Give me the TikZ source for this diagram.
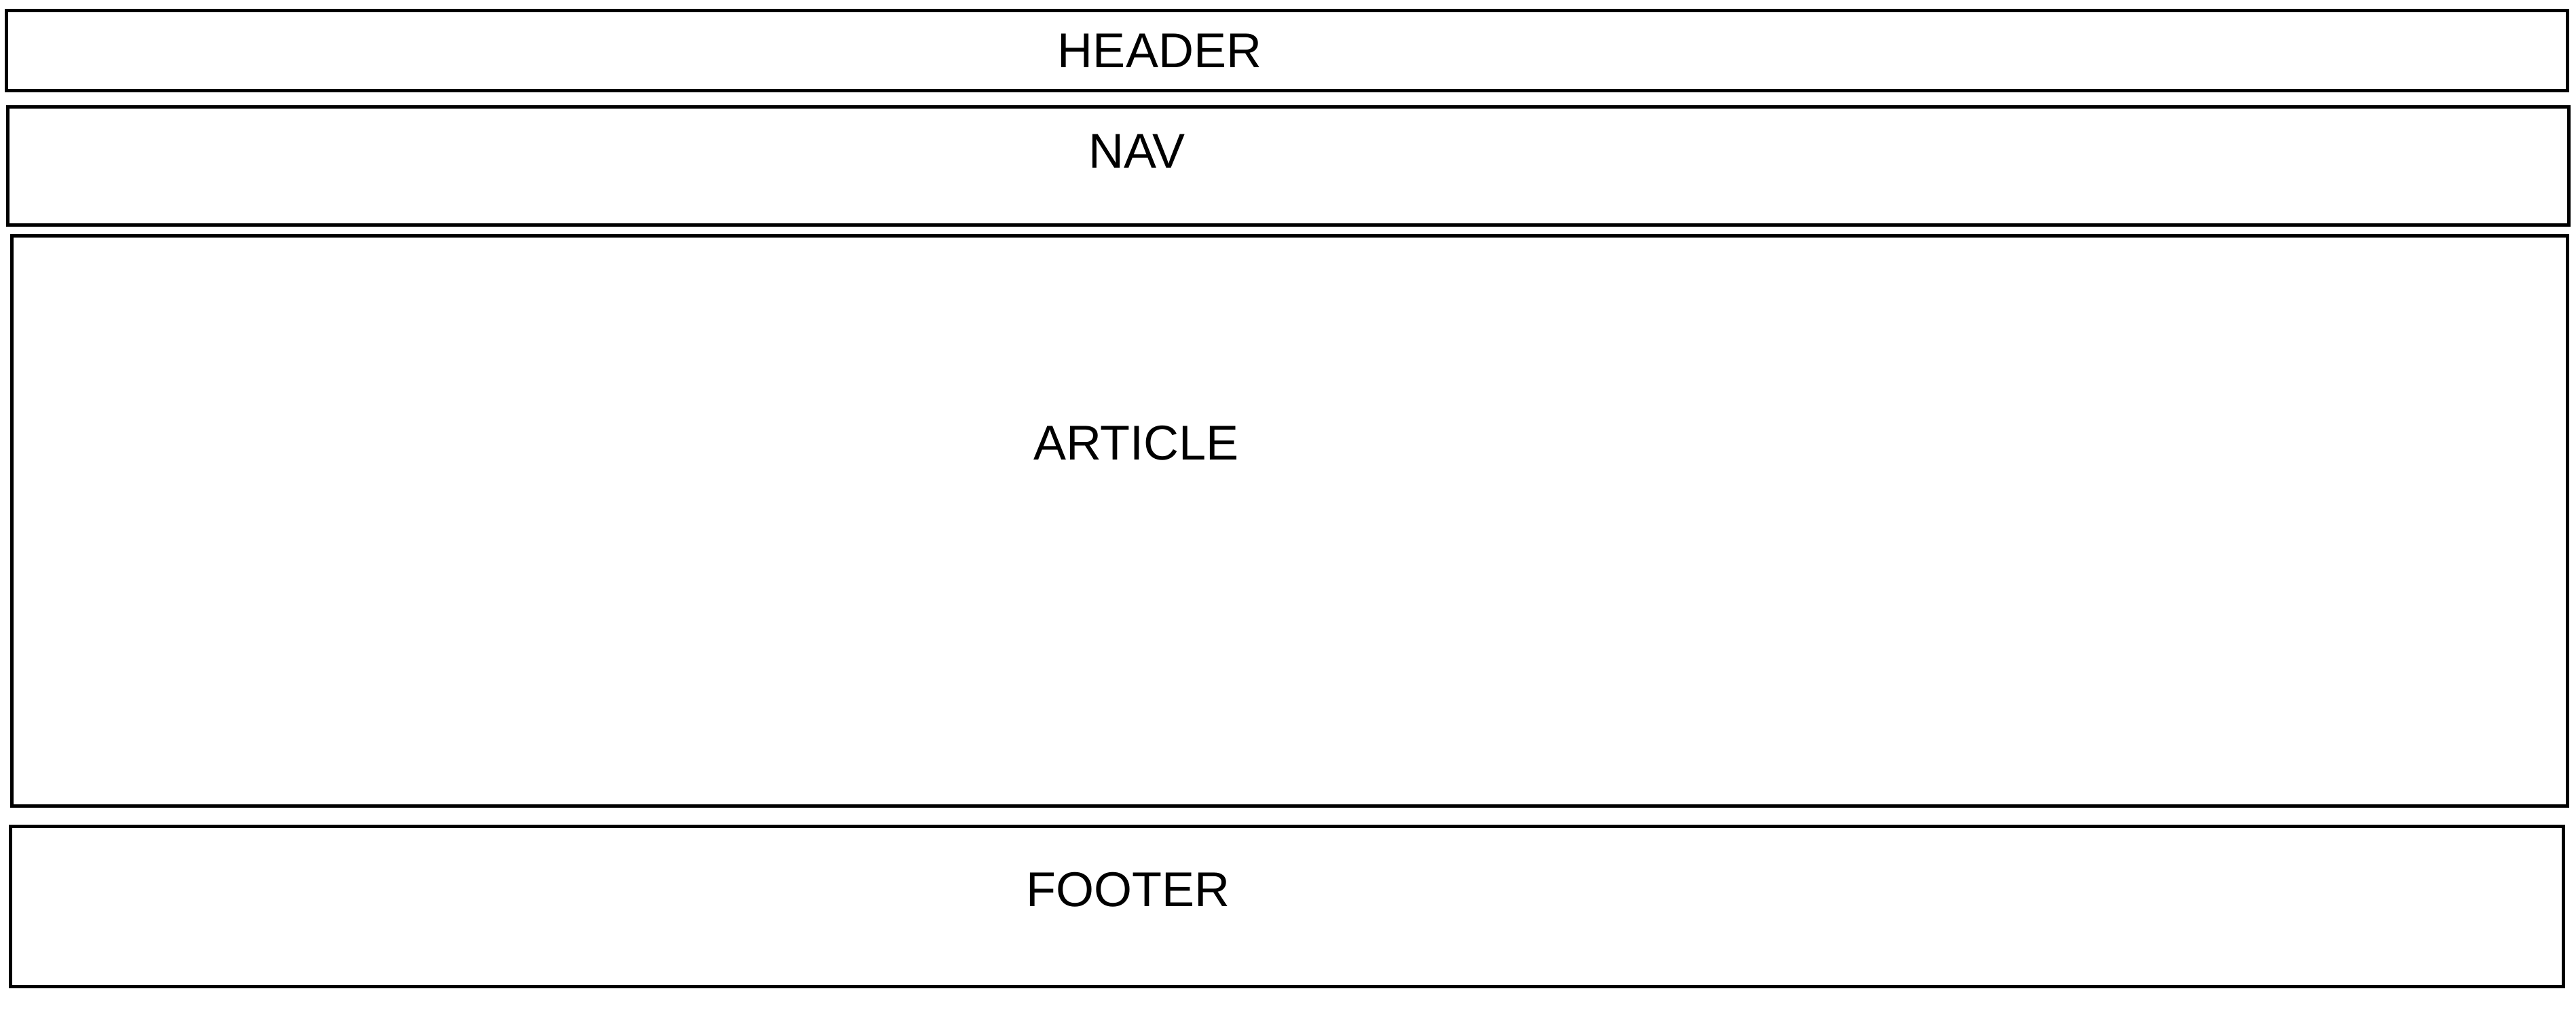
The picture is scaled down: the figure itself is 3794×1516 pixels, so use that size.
\documentclass[tikz,border=0pt]{standalone}
\usepackage{fontspec}
\setmainfont{Liberation Sans}
\begin{document}
\begin{tikzpicture}[x=0.2pt,y=-0.2pt,
  panel/.style={draw=black, line width=1pt, inner sep=0pt, outer sep=0pt, rectangle},
  caption/.style={inner sep=0pt, outer sep=0pt, font=\fontsize{14.4}{17}\selectfont}]
\useasboundingbox[fill=white] (0,0) rectangle (3794,1516);
\node[panel, minimum width=754.4pt, minimum height=23.6pt] (header) at (1895.5,74.5) {};
\node[panel, minimum width=754.4pt, minimum height=34.8pt] (nav) at (1897.5,244.5) {};
\node[panel, minimum width=752.8pt, minimum height=168pt] (article) at (1899.5,767.5) {};
\node[panel, minimum width=752pt, minimum height=47.2pt] (footer) at (1895.5,1335.5) {};
\node[caption] (headerlabel) at (1708,74.5) {HEADER};
\node[caption] (navlabel) at (1674.5,222.5) {NAV};
\node[caption] (articlelabel) at (1673.5,652.5) {ARTICLE};
\node[caption] (footerlabel) at (1661,1311) {FOOTER};
\end{tikzpicture}
\end{document}
